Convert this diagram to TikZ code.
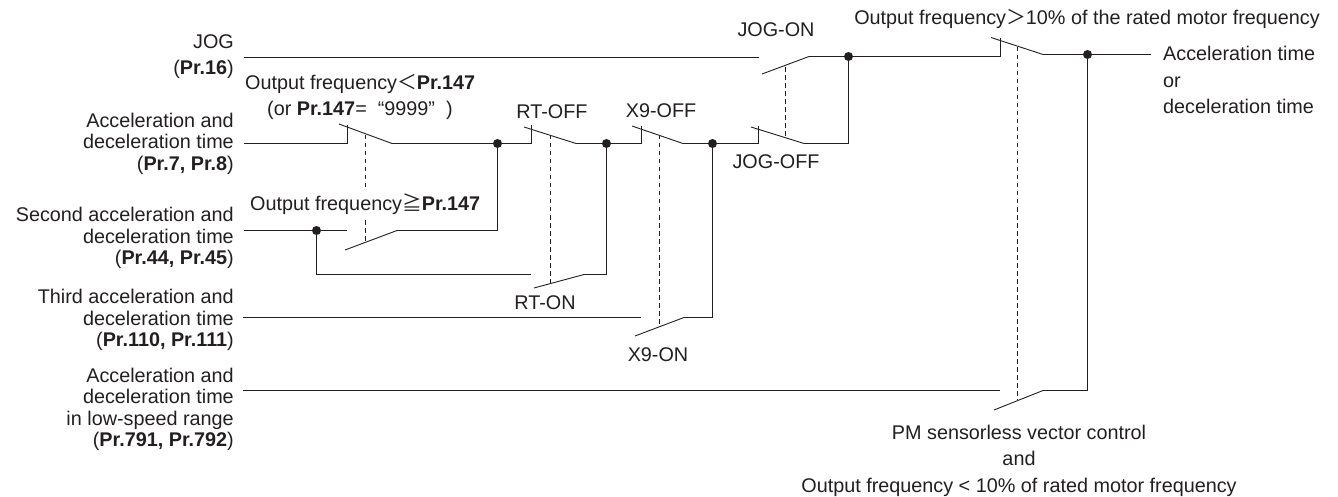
\documentclass[tikz,border=0pt]{standalone}
\usepackage{fontspec}
\setmainfont{Liberation Sans}
\newfontfamily\cjk{Noto Sans CJK JP}
\definecolor{ink}{HTML}{231F20}
\newcommand{\Pb}[1]{\textbf{#1}}
\tikzset{
  wire/.style={draw=ink,line width=1.1pt,line join=miter},
  blade/.style={draw=ink,line width=0.9pt},
  link/.style={draw=ink,line width=0.8pt,dash pattern=on 4.5pt off 3.5pt},
  lbl/.style={inner sep=0pt,text=ink,font=\fontsize{19.8}{21.5}\selectfont},
  lblr/.style={lbl,align=right,anchor=east},
  junction/.style={circle,fill=ink,draw=none,inner sep=0pt,minimum size=9pt}
}
\begin{document}
\begin{tikzpicture}[x=1pt,y=-1pt]
\useasboundingbox (0,0) rectangle (1338,497);
% labels
\node[lblr] (tJog) at (234,57) {JOG\\[4.5pt](\Pb{Pr.16})};
\node[lblr] (tAcc) at (234,143.5) {Acceleration and\hspace{5.5pt}\\deceleration time\\(\Pb{Pr.7, Pr.8})};
\node[lblr] (tSec) at (234,238) {Second acceleration and\hspace{5.5pt}\\deceleration time\\(\Pb{Pr.44, Pr.45})};
\node[lblr] (tThi) at (234,320) {Third acceleration and\hspace{5.5pt}\\deceleration time\\(\Pb{Pr.110, Pr.111})};
\node[lblr] (tLow) at (234,409.5) {Acceleration and\hspace{5.5pt}\\deceleration time\hspace{5.5pt}\\in low-speed range\\(\Pb{Pr.791, Pr.792})};
\node[lbl,anchor=west] (tLt) at (245,84) {Output frequency{\cjk ＜}\Pb{Pr.147}};
\node[lbl,anchor=west] (tOr) at (267,110) {(or \Pb{Pr.147}=\ \ “9999”\ \ )};
\node[lbl,anchor=west] (tGe) at (250,204) {Output frequency{\cjk ≧}\Pb{Pr.147}};
\node[lbl] (tRtOff) at (552,112) {RT-OFF};
\node[lbl] (tX9Off) at (661,111) {X9-OFF};
\node[lbl] (tJogOn) at (776,30) {JOG-ON};
\node[lbl] (tJogOff) at (776,162) {JOG-OFF};
\node[lbl] (tRtOn) at (545,303) {RT-ON};
\node[lbl] (tX9On) at (658,355) {X9-ON};
\node[lbl,anchor=east] (tGt) at (1320,19.5) {Output frequency{\cjk ＞}10\% of the rated motor frequency};
\node[lbl,anchor=west,align=left,font=\fontsize{19.8}{26.5}\selectfont] (tOut) at (1163,80) {Acceleration time\\or\\deceleration time};
\node[lbl,align=center,font=\fontsize{19.8}{26.5}\selectfont] (tPm) at (1019,460.5) {PM sensorless vector control\\and\\Output frequency < 10\% of rated motor frequency};
% junctions
\node[junction] (j1) at (497.5,143.5) {};
\node[junction] (j2) at (606.5,143.5) {};
\node[junction] (j3) at (712.5,143.5) {};
\node[junction] (j4) at (848.5,56.5) {};
\node[junction] (j5) at (1087.5,54.5) {};
\node[junction] (j6) at (316.5,230.5) {};
% free ends
\coordinate (a0) at (244,143.5);
\coordinate (a1) at (347.5,143.5);
\coordinate (a2) at (347.5,125);
\coordinate (a3) at (339,124);
\coordinate (a4) at (392,143.5);
\coordinate (b0) at (244,230.5);
\coordinate (b1) at (347,230.5);
\coordinate (b2) at (345,250);
\coordinate (b3) at (397,230.5);
\coordinate (b4) at (497.5,230.5);
\coordinate (c1) at (531.5,143.5);
\coordinate (c2) at (531.5,125);
\coordinate (c3) at (524,127);
\coordinate (c4) at (576,143.5);
\coordinate (d0) at (316.5,274.5);
\coordinate (d1) at (531,274.5);
\coordinate (d2) at (534,288);
\coordinate (d3) at (584,274.5);
\coordinate (d4) at (606.5,274.5);
\coordinate (e1) at (641.5,143.5);
\coordinate (e2) at (641.5,126);
\coordinate (e3) at (632,126);
\coordinate (e4) at (683,143.5);
\coordinate (f0) at (243,317.5);
\coordinate (f1) at (641,317.5);
\coordinate (f2) at (635,336);
\coordinate (f3) at (684,317.5);
\coordinate (f4) at (712.5,317.5);
\coordinate (g1) at (758.5,143.5);
\coordinate (g2) at (758.5,126);
\coordinate (g3) at (751,127);
\coordinate (g4) at (804,143.5);
\coordinate (g5) at (848.5,143.5);
\coordinate (h0) at (244,57.5);
\coordinate (h1) at (759,57.5);
\coordinate (h2) at (762,74);
\coordinate (h3) at (809,56.5);
\coordinate (k1) at (1000.5,56.5);
\coordinate (k2) at (1000.5,38);
\coordinate (k3) at (991,37.5);
\coordinate (k4) at (1043,54.5);
\coordinate (m0) at (1151,54.5);
\coordinate (n0) at (243,390.5);
\coordinate (n1) at (1000,390.5);
\coordinate (n2) at (994,410);
\coordinate (n3) at (1043,390.5);
\coordinate (n4) at (1087.5,390.5);
% dashed couplings
\coordinate (l1a) at (365.5,135); \coordinate (l1b) at (365.5,189);
\coordinate (l1c) at (365.5,220); \coordinate (l1d) at (365.5,243);
\coordinate (l2a) at (550.5,135); \coordinate (l2b) at (550.5,283);
\coordinate (l3a) at (659.5,135); \coordinate (l3b) at (659.5,326);
\coordinate (l4a) at (785.5,136); \coordinate (l4b) at (785.5,65);
\coordinate (l5a) at (1017.5,47); \coordinate (l5b) at (1017.5,400);
\foreach \p/\q in {l1a/l1b,l1c/l1d,l2a/l2b,l3a/l3b,l4a/l4b,l5a/l5b} \draw[link] (\p) -- (\q);
% wires
\draw[wire] (a0) -- (a1) -- (a2);
\draw[wire] (a4) -- (j1) -- (c1) -- (c2);
\draw[wire] (c4) -- (j2) -- (e1) -- (e2);
\draw[wire] (e4) -- (j3) -- (g1) -- (g2);
\draw[wire] (g4) -- (g5) -- (j4);
\draw[wire] (b0) -- (j6) -- (b1);
\draw[wire] (j6) -- (d0) -- (d1);
\draw[wire] (b3) -- (b4) -- (j1);
\draw[wire] (d3) -- (d4) -- (j2);
\draw[wire] (f0) -- (f1);
\draw[wire] (f3) -- (f4) -- (j3);
\draw[wire] (h0) -- (h1);
\draw[wire] (h3) -- (j4) -- (k1) -- (k2);
\draw[wire] (k4) -- (j5) -- (m0);
\draw[wire] (n0) -- (n1);
\draw[wire] (n3) -- (n4) -- (j5);
% blades
\foreach \p/\q in {a3/a4,b2/b3,c3/c4,d2/d3,e3/e4,f2/f3,g3/g4,h2/h3,k3/k4,n2/n3} \draw[blade] (\p) -- (\q);
\end{tikzpicture}
\end{document}
